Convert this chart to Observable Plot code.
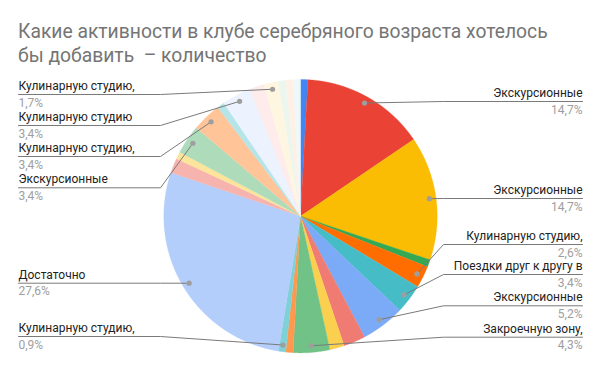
<!DOCTYPE html>
<html>
<head>
<meta charset="utf-8">
<script src="https://cdn.jsdelivr.net/npm/d3@7"></script>
<script src="https://cdn.jsdelivr.net/npm/@observablehq/plot@0.6"></script>
<style>
  html, body { margin: 0; padding: 0; background: #fff; }
  #title { box-sizing: border-box; height: 70px; padding: 20px 0 0 18px; font-family: Roboto, Arial, sans-serif; font-size: 19.3px; line-height: 24px; color: #757575; white-space: nowrap; }
  #chart svg { display: block; }
</style>
</head>
<body>
<div id="title">Какие активности в клубе серебряного возраста хотелось<br>бы добавить&nbsp; – количество</div>
<div id="chart"></div>
<script>
// ---- data ----
const categories = [
  "Другое 1", "Экскурсионные", "Экскурсионные", "Другое 2", "Кулинарную студию,",
  "Поездки друг к другу в", "Экскурсионные", "Другое 3", "Другое 4", "Закроечную зону,",
  "Другое 5", "Кулинарную студию,", "Достаточно", "Другое 6", "Другое 7",
  "Экскурсионные", "Кулинарную студию,", "Другое 8", "Кулинарную студию", "Другое 9",
  "Кулинарную студию,", "Другое 10", "Другое 11", "Другое 12"
];
const counts = [1, 17, 17, 1, 3, 4, 6, 3, 2, 5, 1, 1, 32, 2, 1, 4, 4, 1, 4, 2, 2, 1, 1, 1];
// indices of slices whose labels are shown
const labeledSlices = [1, 2, 4, 5, 6, 9, 11, 12, 15, 16, 18, 20];

// ---- styles / layout ----
const palette = [
  "#4285F4", "#EA4335", "#FBBC04", "#34A853", "#FF6D01", "#46BDC6",
  "#7BAAF7", "#F07B72", "#FCD04F", "#71C287", "#FF994D", "#7ED1D7",
  "#B3CEFB", "#F7B4AE", "#FDE49B", "#AEDCBA", "#FFC599", "#B5E5E8",
  "#ECF3FE", "#FDECEB", "#FEF6E0", "#EBF6EE", "#FFF0E6", "#EDF8F9"
];
const W = 600, H = 301;
const cx = 300, cy = 145.7, R = 136.7, dotR = 130;
// leader line y (svg coords) for each labeled slice
const labelLineY = {1: 31, 2: 128, 4: 174, 5: 204, 6: 235.3, 9: 266.7, 11: 266, 12: 212.7, 15: 117.3, 16: 86, 18: 55, 20: 24};

const total = d3.sum(counts);
const arcs = d3.pie().sort(null).value(d => d)(counts);
const px = (a, r) => cx + r * Math.sin(a);
const py = (a, r) => cy - r * Math.cos(a);

// slice polygons
const polys = [];
arcs.forEach((a, i) => {
  const n = Math.max(2, Math.ceil((a.endAngle - a.startAngle) / 0.005));
  polys.push({k: i, x: cx, y: cy, c: palette[i]});
  for (let j = 0; j <= n; j++) {
    const t = a.startAngle + (a.endAngle - a.startAngle) * j / n;
    polys.push({k: i, x: px(t, R), y: py(t, R), c: palette[i]});
  }
  polys.push({k: i, x: cx, y: cy, c: palette[i]});
});

const fmt = v => (v / total * 100).toFixed(1).replace(".", ",") + "%";
const labels = labeledSlices.map(i => {
  const a = arcs[i];
  const mid = (a.startAngle + a.endAngle) / 2;
  const right = mid < Math.PI;
  const ly = labelLineY[i];
  return {
    i, right, ly,
    dx: px(mid, dotR), dy: py(mid, dotR),
    kneeX: right ? 443 : 160,
    endX: right ? 582 : 18,
    name: categories[i], pct: fmt(counts[i])
  };
});
const leaders = [];
labels.forEach(l => {
  leaders.push({k: l.i, x: l.dx, y: l.dy});
  leaders.push({k: l.i, x: l.kneeX, y: l.ly});
  leaders.push({k: l.i, x: l.endX, y: l.ly});
});
const rightLabels = labels.filter(d => d.right);
const leftLabels = labels.filter(d => !d.right);

const font = "Roboto, Arial, sans-serif";
const nameY = d => d.ly - 4.5 - 3.84;
const pctY = d => d.ly + 12 - 3.84;
const chart = Plot.plot({
  width: W, height: H,
  margin: 0,
  style: {fontFamily: font, background: "#fff"},
  x: {type: "linear", domain: [0, W], range: [0, W], axis: null},
  y: {type: "linear", domain: [0, H], range: [0, H], axis: null},
  color: {type: "identity"},
  marks: [
    Plot.line(polys, {x: "x", y: "y", z: "k", fill: "c", stroke: "c", strokeWidth: 0.3, curve: "linear"}),
    Plot.line(leaders, {x: "x", y: "y", z: "k", stroke: "#7a7a7a", strokeWidth: 1, curve: "linear"}),
    Plot.dot(labels, {x: "dx", y: "dy", r: 2.6, fill: "#9e9e9e", stroke: "none"}),
    Plot.text(rightLabels, {x: "endX", y: nameY, text: "name", textAnchor: "end", fontSize: 12, fill: "#222"}),
    Plot.text(leftLabels, {x: "endX", y: nameY, text: "name", textAnchor: "start", fontSize: 12, fill: "#222"}),
    Plot.text(rightLabels, {x: "endX", y: pctY, text: "pct", textAnchor: "end", fontSize: 12, fill: "#9e9e9e"}),
    Plot.text(leftLabels, {x: "endX", y: pctY, text: "pct", textAnchor: "start", fontSize: 12, fill: "#9e9e9e"})
  ]
});
document.getElementById("chart").appendChild(chart);
</script>
</body>
</html>
